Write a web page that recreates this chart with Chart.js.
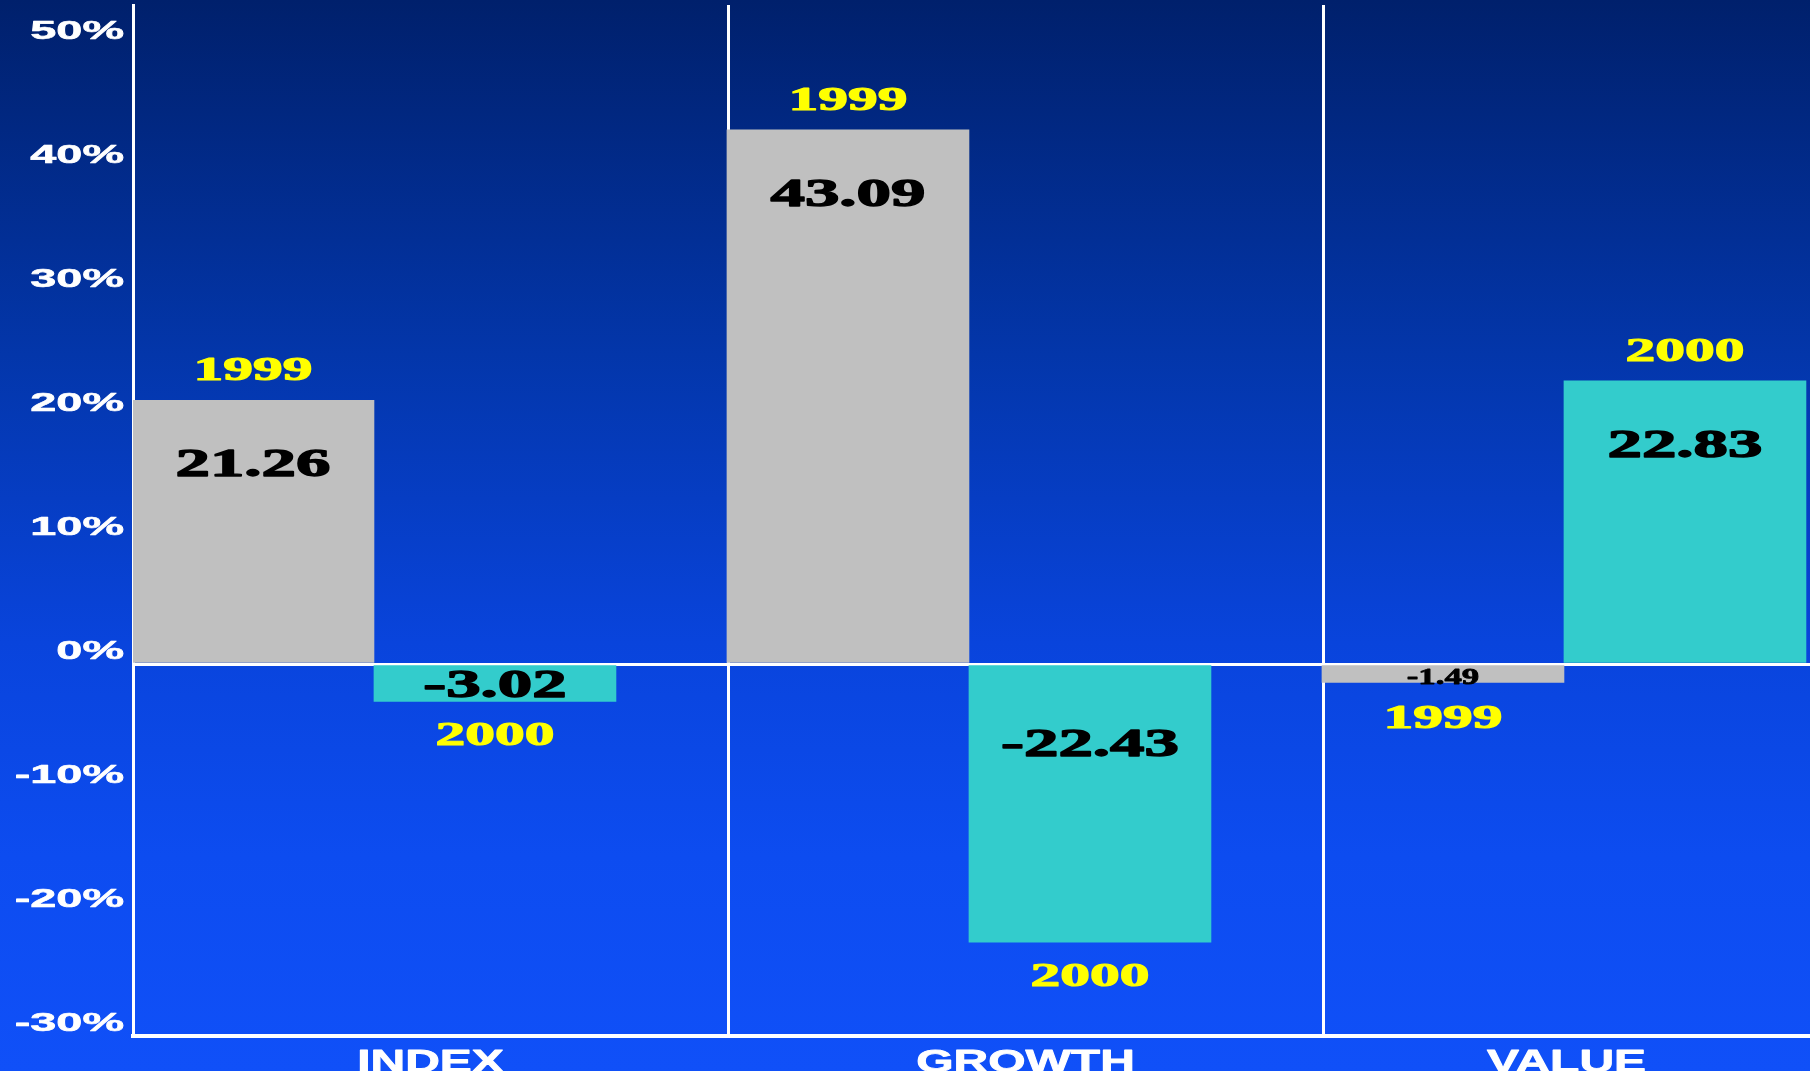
<!DOCTYPE html>
<html>
<head>
<meta charset="utf-8">
<title>Index / Growth / Value returns</title>
<script src="https://cdn.jsdelivr.net/npm/chart.js@4"></script>
<style>
  html, body { margin: 0; padding: 0; overflow: hidden; background: #0a44dc; }
  #wrap { position: relative; width: 1918px; height: 1071px; }
</style>
</head>
<body>
<div id="wrap"><canvas id="chart"></canvas></div>
<script>
// returns per style, in percent
const categories = ['INDEX', 'GROWTH', 'VALUE'];
const years = ['1999', '2000'];
const ret1999 = [21.26, 43.09, -1.49];
const ret2000 = [-3.02, -22.43, 22.83];
const yTicks = [-30, -20, -10, 0, 10, 20, 30, 40, 50];

const GRAY = '#c0c0c0';
const TEAL = '#33cccc';

function toPoints(values) {
    return values.map((v, i) => ({ x: i, y: v }));
}

// text squeezed wide, like the old slide fonts; a thin stroke thickens it
function wideText(ctx, text, x, y, font, color, sx, align, stroke) {
    ctx.save();
    ctx.font = font;
    ctx.fillStyle = color;
    ctx.strokeStyle = color;
    ctx.lineJoin = 'round';
    ctx.textAlign = align || 'center';
    ctx.textBaseline = 'alphabetic';
    ctx.translate(x, y);
    ctx.scale(sx, 1);
    ctx.fillText(text, 0, 0);
    if (stroke) {
        ctx.lineWidth = stroke;
        ctx.strokeText(text, 0, 0);
    }
    ctx.restore();
}

const background = {
    id: 'gradient_background',
    beforeDraw: (chart) => {
        const ctx = chart.ctx;
        const g = ctx.createLinearGradient(0, 0, 0, chart.height);
        g.addColorStop(0, '#00206c');
        g.addColorStop(0.33, '#0336aa');
        g.addColorStop(0.6, '#0944dc');
        g.addColorStop(0.8, '#0d4cf0');
        g.addColorStop(1, '#1050f8');
        ctx.save();
        ctx.fillStyle = g;
        ctx.fillRect(0, 0, chart.width, chart.height);
        ctx.restore();
    }
};

const labels = {
    id: 'wide_labels',
    afterDraw: (chart) => {
        const ctx = chart.ctx;
        const yearFont = 'bold 33px "Liberation Serif"';

        chart.data.datasets.forEach((ds, di) => {
            const meta = chart.getDatasetMeta(di);
            meta.data.forEach((bar, j) => {
                const v = ds.data[j].y;
                const small = Math.abs(v) < 2;
                const valFont = small ? 'bold 24px "Liberation Serif"' : 'bold 41px "Liberation Serif"';
                const cap = small ? 16 : 28;
                const sx = small ? 1.45 : 1.68;
                const sw = small ? 0.8 : 1.4;
                if (v >= 0) {
                    wideText(ctx, v.toFixed(2), bar.x, bar.y + 48 + cap, valFont, '#000', sx, 'center', sw);
                    wideText(ctx, ds.label, bar.x, bar.y - 20, yearFont, '#ffff00', 1.8, 'center', 1.1);
                } else {
                    const h = bar.y - bar.base;
                    const textTop = h > 100 ? bar.base + 62 : bar.base + Math.max(2, (h - cap) / 2);
                    wideText(ctx, v.toFixed(2), bar.x, textTop + cap, valFont, '#000', sx, 'center', sw);
                    const below = Math.max(bar.y, textTop + cap);
                    wideText(ctx, ds.label, bar.x, below + 44, yearFont, '#ffff00', 1.8, 'center', 1.1);
                }
            });
        });

        // percent ticks, drawn a little above their grid value
        const ys = chart.scales.y;
        yTicks.forEach((v) => {
            const y = ys.getPixelForValue(v) - 15 + 9.5;
            wideText(ctx, v + '%', ys.right - 9, y, 'bold 26px "Liberation Sans"', '#ffffff', 1.8, 'right', 0.6);
        });

        // category names, centred on the part of each column that is on screen
        const xs = chart.scales.x;
        const half = xs.width / categories.length / 2;
        const visRight = Math.min(xs.right, window.innerWidth);
        categories.forEach((name, i) => {
            const c = xs.getPixelForValue(i);
            const mid = (c - half + Math.min(c + half, visRight)) / 2;
            wideText(ctx, name, mid, chart.chartArea.bottom + 36, 'bold 32px "Liberation Sans"', '#ffffff', 1.5, 'center', 0.8);
        });
    }
};

const ctx = document.getElementById('chart').getContext('2d');
const myChart = new Chart(ctx, {
    type: 'bar',
    data: {
        datasets: [{
            label: years[0],
            data: toPoints(ret1999),
            backgroundColor: GRAY,
            xAxisID: 'xb',
            barThickness: 242,
        }, {
            label: years[1],
            data: toPoints(ret2000),
            backgroundColor: TEAL,
            xAxisID: 'xb',
            barThickness: 242,
        }]
    },
    options: {
        responsive: true,
        maintainAspectRatio: false,
        animation: false,
        layout: { padding: { top: 5, left: 0, right: 0, bottom: 0 } },
        plugins: {
            legend: { display: false },
            tooltip: { enabled: false },
        },
        scales: {
            x: {
                type: 'category',
                labels: categories,
                offset: true,
                position: 'bottom',
                z: 1,
                grid: { offset: true, color: '#ffffff', lineWidth: 3, drawTicks: false },
                border: { color: '#ffffff', width: 4 },
                ticks: { display: false },
                afterFit: (scale) => { scale.height = 35; },
            },
            xb: {
                type: 'linear',
                display: false,
                offset: false,
                min: -0.405,
                max: 2.595,
            },
            y: {
                min: -30,
                max: 53.15,
                z: 1,
                grid: {
                    color: (c) => (c.tick && c.tick.value === 0 ? '#ffffff' : 'rgba(0,0,0,0)'),
                    lineWidth: 3,
                    drawTicks: false,
                },
                border: { color: '#ffffff', width: 3 },
                afterBuildTicks: (scale) => { scale.ticks = yTicks.map(v => ({ value: v })); },
                afterFit: (scale) => { scale.width = 133; },
                ticks: { display: false },
            }
        }
    },
    plugins: [background, labels],
});
</script>
</body>
</html>
